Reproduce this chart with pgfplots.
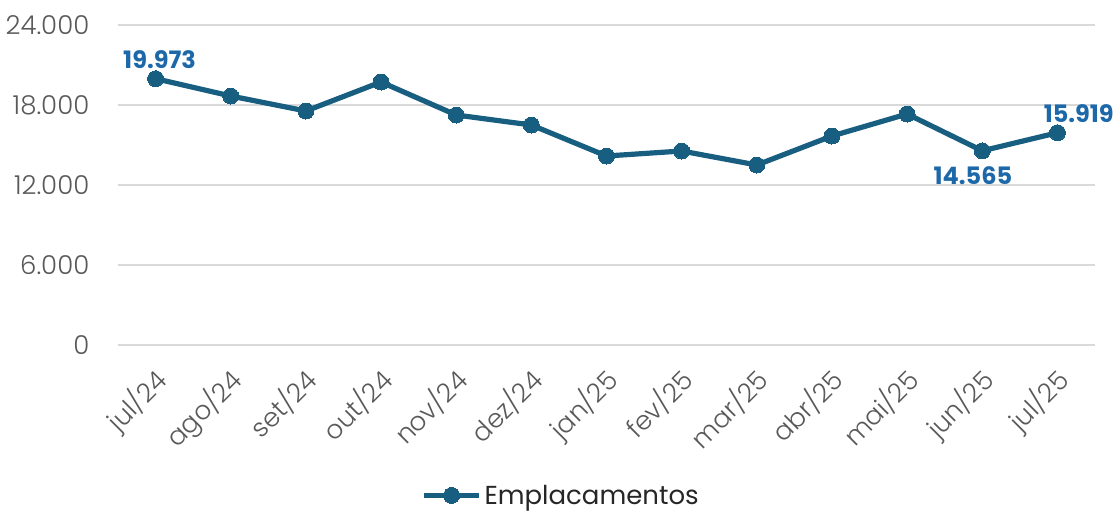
\documentclass[border=0pt]{standalone}
\usepackage{fontspec}
\setmainfont{Poppins}
\newfontfamily\lightfont{Poppins Light}
\usepackage{pgfplots}
\pgfplotsset{compat=1.18}
\definecolor{linecol}{HTML}{185E80}
\definecolor{lblcol}{HTML}{1D68A8}
\definecolor{gridcol}{HTML}{D9D9D9}
\definecolor{tickcol}{HTML}{595959}
\begin{document}
\begin{tikzpicture}
\useasboundingbox (-88.5pt,-124.5pt) rectangle (748.5pt,258.75pt);
\begin{axis}[
    scale only axis,
    width=732.75pt,
    height=240pt,
    xmin=-0.5, xmax=12.5,
    ymin=0, ymax=24000,
    ytick={0,6000,12000,18000,24000},
    scaled y ticks=false,
    xtick={0,...,12},
    xticklabels={jul/24,ago/24,set/24,out/24,nov/24,dez/24,jan/25,fev/25,mar/25,abr/25,mai/25,jun/25,jul/25},
    axis line style={draw=none},
    major tick length=0pt,
    ymajorgrids,
    grid style={gridcol, line width=1.1pt},
    tick label style={font=\lightfont\fontsize{19.5}{22}\selectfont, text=tickcol},
    yticklabel style={xshift=-18pt},
    xticklabel style={xshift=-3pt, yshift=-10pt, rotate=45, anchor=north east},
    /pgf/number format/.cd, fixed, precision=0, 1000 sep={.}, assume math mode=true,
    /pgfplots/.cd,
    legend style={draw=none, fill=none, at={(0.454,-0.47)}, anchor=center,
        font=\fontsize{19.5}{22}\selectfont, text=black!85},
    legend image code/.code={\draw[mark repeat=2,mark phase=2,#1] plot coordinates {(0cm,0cm) (0.72cm,0cm) (1.45cm,0cm)};},
    clip=false,
]
\addplot[linecol, line width=3.9pt, mark=*, mark size=6pt, mark options={fill=linecol, draw=linecol, line width=0pt}] coordinates {
    (0,19973) (1,18675) (2,17550) (3,19725) (4,17250) (5,16500)
    (6,14175) (7,14550) (8,13500) (9,15675) (10,17325) (11,14565) (12,15919)
};
\addlegendentry{Emplacamentos}
\addplot[draw=none, forget plot, nodes near coords, point meta=explicit symbolic,
    every node near coord/.append style={font=\bfseries\fontsize{18}{20}\selectfont, text=lblcol, anchor=south, yshift=4pt, xshift=3pt}]
    coordinates {(0,19973) [19.973]};
\addplot[draw=none, forget plot, nodes near coords, point meta=explicit symbolic,
    every node near coord/.append style={font=\bfseries\fontsize{18}{20}\selectfont, text=lblcol, anchor=south, yshift=4pt, xshift=16pt}]
    coordinates {(12,15919) [15.919]};
\addplot[draw=none, forget plot, nodes near coords, point meta=explicit symbolic,
    every node near coord/.append style={font=\bfseries\fontsize{18}{20}\selectfont, text=lblcol, anchor=north, yshift=-8pt, xshift=-7pt}]
    coordinates {(11,14565) [14.565]};
\end{axis}
\end{tikzpicture}
\end{document}
